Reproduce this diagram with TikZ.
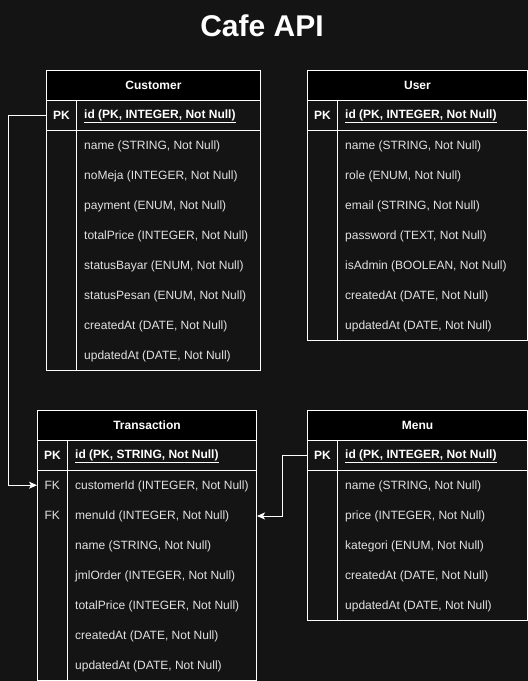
\documentclass[tikz,border=0pt]{standalone}
\usepackage{fontspec}
\setmainfont{Liberation Sans}
\usepackage{tikz}
\usetikzlibrary{arrows.meta,positioning}
\definecolor{bg}{HTML}{141414}
\definecolor{rowtext}{HTML}{E2E2E2}

\tikzset{
  cell/.style={draw=white, line width=1pt, fill=bg, anchor=north west, inner sep=0pt, minimum height=30pt},
  head/.style={cell, fill=black, text=white, font=\fontsize{12}{14}\bfseries},
  keybox/.style={cell, minimum width=30pt, text=white, font=\fontsize{12}{14}\bfseries},
  keylbl/.style={anchor=north west, inner sep=0pt, minimum width=30pt, minimum height=30pt, text=rowtext},
  pkrow/.style={anchor=west, inner sep=0pt, yshift=-1pt, text=white, font=\fontsize{12}{14}\bfseries},
  row/.style={anchor=west, inner sep=0pt, yshift=-1pt, text=rowtext},
  link/.style={draw=white, line width=1pt, -{Stealth[length=8pt,width=7pt,inset=2pt]}}
}

\begin{document}
\begin{tikzpicture}[x=1pt, y=-1pt, font=\fontsize{12}{14}\selectfont]
        \fill[bg] (0,0) rectangle (528,681);
        \useasboundingbox (0,0) rectangle (528,681);

        \path (262,36) node[anchor=base, text=white, font=\fontsize{30}{36}\bfseries] (title) {Cafe API};

        \path
        % customer
        (46,70) node[head, minimum width=214pt] (cust) {Customer}
        (46,100) node[keybox] (custpk) {PK}
        (76,100) node[cell, minimum width=184pt] (custidbox) {}
        (46,130) node[cell, minimum width=30pt, minimum height=240pt] (custkeys) {}
        (76,130) node[cell, minimum width=184pt, minimum height=240pt] (custbody) {}
        (84,115) node[pkrow] (custid) {\underline{id (PK, INTEGER, Not Null)}}
        (84,145) node[row] (custname) {name (STRING, Not Null)}
        (84,175) node[row] (custmeja) {noMeja (INTEGER, Not Null)}
        (84,205) node[row] (custpay) {payment (ENUM, Not Null)}
        (84,235) node[row] (custtotal) {totalPrice (INTEGER, Not Null)}
        (84,265) node[row] (custbayar) {statusBayar (ENUM, Not Null)}
        (84,295) node[row] (custpesan) {statusPesan (ENUM, Not Null)}
        (84,325) node[row] (custcreated) {createdAt (DATE, Not Null)}
        (84,355) node[row] (custupdated) {updatedAt (DATE, Not Null)}

        % user
        (307,70) node[head, minimum width=220pt] (user) {User}
        (307,100) node[keybox] (userpk) {PK}
        (337,100) node[cell, minimum width=190pt] (useridbox) {}
        (307,130) node[cell, minimum width=30pt, minimum height=210pt] (userkeys) {}
        (337,130) node[cell, minimum width=190pt, minimum height=210pt] (userbody) {}
        (345,115) node[pkrow] (userid) {\underline{id (PK, INTEGER, Not Null)}}
        (345,145) node[row] (username) {name (STRING, Not Null)}
        (345,175) node[row] (userrole) {role (ENUM, Not Null)}
        (345,205) node[row] (useremail) {email (STRING, Not Null)}
        (345,235) node[row] (userpass) {password (TEXT, Not Null)}
        (345,265) node[row] (useradmin) {isAdmin (BOOLEAN, Not Null)}
        (345,295) node[row] (usercreated) {createdAt (DATE, Not Null)}
        (345,325) node[row] (userupdated) {updatedAt (DATE, Not Null)}

        % transaction
        (37,410) node[head, minimum width=219pt] (trx) {Transaction}
        (37,440) node[keybox] (trxpk) {PK}
        (67,440) node[cell, minimum width=189pt] (trxidbox) {}
        (37,470) node[cell, minimum width=30pt, minimum height=210pt] (trxkeys) {}
        (67,470) node[cell, minimum width=189pt, minimum height=210pt] (trxbody) {}
        (37,470) node[keylbl] (trxfk1) {FK}
        (37,500) node[keylbl] (trxfk2) {FK}
        (75,455) node[pkrow] (trxid) {\underline{id (PK, STRING, Not Null)}}
        (75,485) node[row] (trxcust) {customerId (INTEGER, Not Null)}
        (75,515) node[row] (trxmenu) {menuId (INTEGER, Not Null)}
        (75,545) node[row] (trxname) {name (STRING, Not Null)}
        (75,575) node[row] (trxjml) {jmlOrder (INTEGER, Not Null)}
        (75,605) node[row] (trxtotal) {totalPrice (INTEGER, Not Null)}
        (75,635) node[row] (trxcreated) {createdAt (DATE, Not Null)}
        (75,665) node[row] (trxupdated) {updatedAt (DATE, Not Null)}

        % menu
        (307,410) node[head, minimum width=220pt] (menu) {Menu}
        (307,440) node[keybox] (menupk) {PK}
        (337,440) node[cell, minimum width=190pt] (menuidbox) {}
        (307,470) node[cell, minimum width=30pt, minimum height=150pt] (menukeys) {}
        (337,470) node[cell, minimum width=190pt, minimum height=150pt] (menubody) {}
        (345,455) node[pkrow] (menuid) {\underline{id (PK, INTEGER, Not Null)}}
        (345,485) node[row] (menuname) {name (STRING, Not Null)}
        (345,515) node[row] (menuprice) {price (INTEGER, Not Null)}
        (345,545) node[row] (menukat) {kategori (ENUM, Not Null)}
        (345,575) node[row] (menucreated) {createdAt (DATE, Not Null)}
        (345,605) node[row] (menuupdated) {updatedAt (DATE, Not Null)}
        ;

        \draw[link] (custpk.west) -- ++(-38,0) |- (trxfk1.west);
        \draw[link] (menupk.west) -- ++(-25,0) |- (trxbody.east |- trxmenu.west);
      \end{tikzpicture}
\end{document}
